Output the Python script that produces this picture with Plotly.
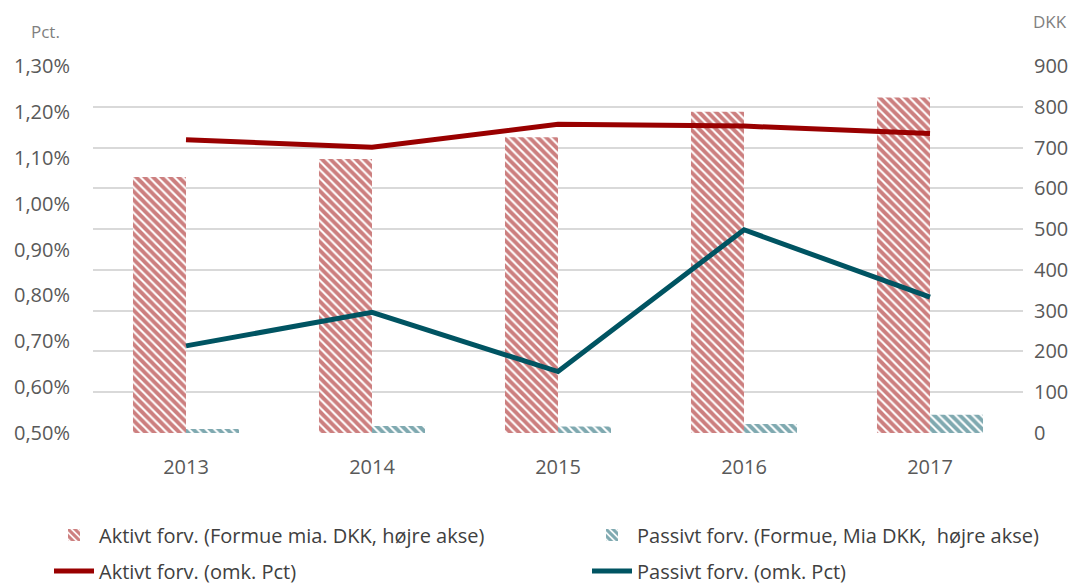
import plotly.graph_objects as go

years = ["2013", "2014", "2015", "2016", "2017"]
aktivt_formue = [628, 672, 725, 788, 823]
passivt_formue = [10, 17, 16, 22, 45]
aktivt_pct = [1.139, 1.123, 1.173, 1.169, 1.153]
passivt_pct = [0.690, 0.763, 0.634, 0.943, 0.796]

red = "#990000"
teal = "#005462"
grey_txt = "#595959"
font_fam = "'Open Sans', Lato, sans-serif"

# page has an 8px body margin; figure coords = page coords - 8
OFF = 8
W, H = 1077, 577
L = 93 - OFF
R = W - (1023 - OFF)
T = 66 - OFF
B = H - (433 - OFF)
pw, ph = W - L - R, H - T - B

def px_x(x):
    return (x - OFF - L) / pw

def px_y(y):
    return (H - B - (y - OFF)) / ph

fig = go.Figure()
fig.add_trace(go.Bar(
    x=years, y=aktivt_formue, name="Aktivt forv. (Formue mia. DKK, højre akse)",
    marker=dict(color="white", line=dict(width=0),
                pattern=dict(shape="\\", fgcolor=red, bgcolor="white", size=6, solidity=0.65)),
    yaxis="y", legend="legend"))
fig.add_trace(go.Bar(
    x=years, y=passivt_formue, name="Passivt forv. (Formue, Mia DKK,  højre akse)",
    marker=dict(color="white", line=dict(width=0),
                pattern=dict(shape="\\", fgcolor=teal, bgcolor="white", size=6, solidity=0.65)),
    yaxis="y", legend="legend2"))
fig.add_trace(go.Scatter(
    x=years, y=[v / 100 for v in aktivt_pct], name="Aktivt forv. (omk. Pct)",
    mode="lines", line=dict(color=red, width=5), yaxis="y2", legend="legend3"))
fig.add_trace(go.Scatter(
    x=years, y=[v / 100 for v in passivt_pct], name="Passivt forv. (omk. Pct)",
    mode="lines", line=dict(color=teal, width=5), yaxis="y2", legend="legend4"))

leg_common = dict(orientation="h", xanchor="left", yanchor="middle",
                  font=dict(size=20, color="#404040", family=font_fam),
                  itemwidth=40, bgcolor="rgba(0,0,0,0)", borderwidth=0)

fig.update_layout(
    width=W, height=H,
    margin=dict(l=L, r=R, t=T, b=B, autoexpand=False),
    paper_bgcolor="white", plot_bgcolor="white",
    separators=",.",
    font=dict(family=font_fam, size=20, color=grey_txt),
    barmode="group", bargap=0.43, bargroupgap=0,
    showlegend=True,
    legend=dict(x=px_x(49), y=px_y(535), **leg_common),
    legend2=dict(x=px_x(587), y=px_y(535), **leg_common),
    legend3=dict(x=px_x(49), y=px_y(571), **leg_common),
    legend4=dict(x=px_x(587), y=px_y(571), **leg_common),
    xaxis=dict(type="category", showgrid=False, ticks="", showline=False,
               ticklabelstandoff=20, tickfont=dict(size=20, color=grey_txt)),
    yaxis=dict(range=[0, 900], dtick=100, side="right", showgrid=True,
               gridcolor="#d9d9d9", gridwidth=1.5, zeroline=False, showline=False,
               ticks="", ticklabelstandoff=10, tickfont=dict(size=20, color=grey_txt)),
    yaxis2=dict(range=[0.005, 0.013], dtick=0.001, tickformat=".2%", side="left",
                overlaying="y", showgrid=False, zeroline=False, showline=False,
                ticks="", ticklabelstandoff=22, tickfont=dict(size=20, color=grey_txt)),
    annotations=[
        dict(text="Pct.", x=px_x(45), y=px_y(32), xref="paper", yref="paper",
             showarrow=False, font=dict(size=17, color="#7f7f7f"),
             xanchor="center", yanchor="middle"),
        dict(text="DKK", x=px_x(1050), y=px_y(21), xref="paper", yref="paper",
             showarrow=False, font=dict(size=17, color="#7f7f7f"),
             xanchor="center", yanchor="middle"),
    ],
)

fig.write_html("out.html")
